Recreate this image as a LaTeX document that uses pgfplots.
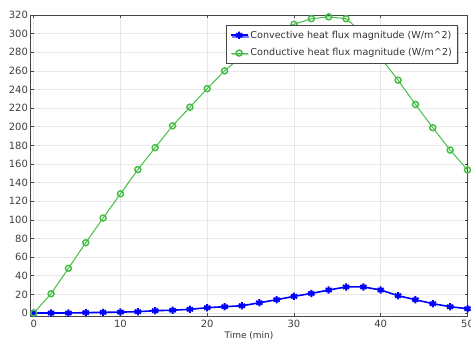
\documentclass[border=0pt]{standalone}
\usepackage{pgfplots}
\pgfplotsset{compat=1.18}
\usepackage{fontspec}
\setmainfont{DejaVu Sans}
\usetikzlibrary{shadows}
\definecolor{cblue}{RGB}{0,0,255}
\definecolor{cgreen}{RGB}{70,190,70}
\definecolor{frame}{RGB}{70,70,70}
\begin{document}
\begin{tikzpicture}[x=1pt,y=1pt]
\begin{axis}[
  at={(0,0)}, anchor=south west,
  scale only axis,
  width=437pt, height=301pt,
  xmin=-0.37, xmax=50, ymin=-3.2, ymax=320,
  xtick={0,10,20,30,40,50},
  ytick={0,20,...,320},
  grid=major,
  major grid style={draw=black!9, line width=0.6pt},
  axis line style={draw=frame, line width=0.9pt},
  tick style={draw=frame, line width=0.6pt},
  major tick length=3pt,
  tick align=inside,
  font=\fontsize{10}{12}\selectfont,
  tick label style={text=black!75},
  /pgf/number format/assume math mode=true,
  xlabel={Time (min)},
  xlabel style={yshift=3pt, text=black!80, font=\fontsize{9}{10}\selectfont},
  xticklabel style={yshift=-1pt},
  yticklabel style={xshift=1pt},
  legend style={at={(0.978,0.967)}, anchor=north east, draw=frame, line width=0.9pt,
    drop shadow={shadow xshift=1.5pt, shadow yshift=-1.5pt, fill=black!40},
    fill=white, font=\fontsize{9.6}{11.5}\selectfont, text=black!80,
    inner sep=3.5pt, row sep=5pt},
  legend cell align=left,
  clip=false,
]
\addplot[cblue, line width=1.6pt, mark=asterisk, mark size=3.6pt, mark options={line width=2pt}]
coordinates {
(0,0) (2,0) (4,0) (6,0.4) (8,0.7) (10,1) (12,1.4) (14,2.5) (16,3) (18,4) (20,5.7) (22,6.8)
(24,7.8) (26,11) (28,14.3) (30,17.9) (32,21) (34,24.7) (36,28) (38,28) (40,24.7) (42,18.6)
(44,14.3) (46,10) (48,6.8) (50,4.6)
};
\addlegendentry{Convective heat flux magnitude (W/m\textasciicircum 2)}
\addplot[cgreen, line width=1pt, mark=o, mark size=3pt, mark options={line width=1.5pt}]
coordinates {
(0,0) (2,20.7) (4,48) (6,75.5) (8,102) (10,128) (12,154) (14,177.6) (16,201) (18,221)
(20,241) (22,260) (24,276) (26,290) (28,301) (30,310) (32,316) (34,318) (36,316) (38,300)
(40,274) (42,250) (44,224) (46,199) (48,175) (50,153.6)
};
\addlegendentry{Conductive heat flux magnitude (W/m\textasciicircum 2)}
\end{axis}
\pgfresetboundingbox
\useasboundingbox (-30.5pt,-29pt) rectangle (440.5pt,316pt);
\end{tikzpicture}
\end{document}
